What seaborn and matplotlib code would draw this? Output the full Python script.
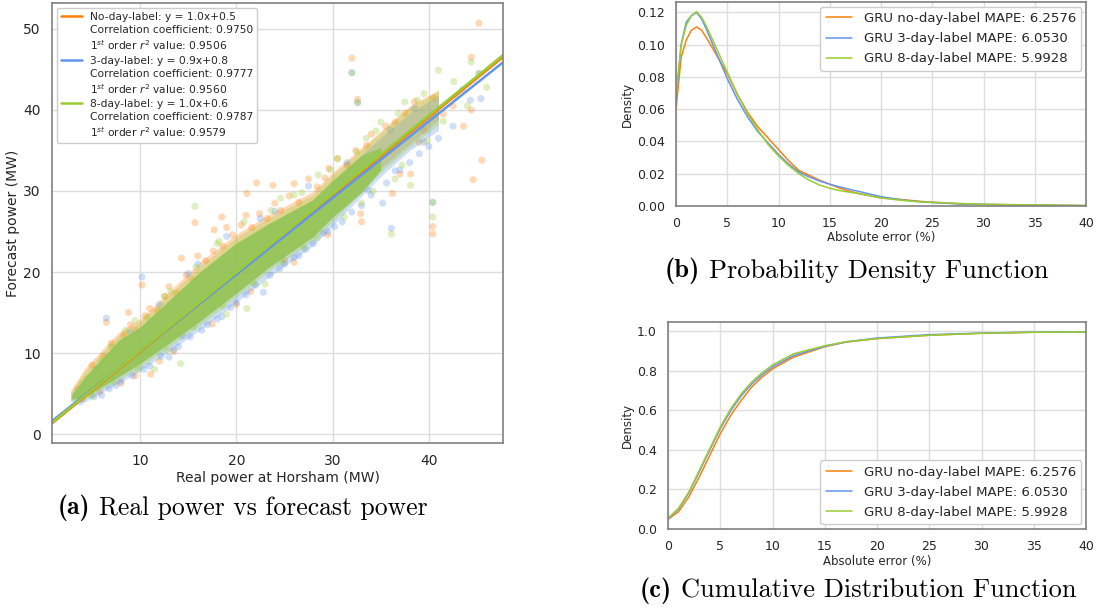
import matplotlib
matplotlib.use("Agg")
import matplotlib.pyplot as plt
from matplotlib.lines import Line2D
import numpy as np
import pandas as pd
import seaborn as sns

sns.set_theme(style="whitegrid")
plt.rcParams["axes.edgecolor"] = "0.5"
plt.rcParams["axes.linewidth"] = 1.2
plt.rcParams["grid.color"] = "0.87"
plt.rcParams["mathtext.fontset"] = "dejavusans"

names = ["No-day-label", "3-day-label", "8-day-label"]
gru_names = ["GRU no-day-label", "GRU 3-day-label", "GRU 8-day-label"]
colors = ["#ff7f0e", "#6495ed", "#9acd32"]
core_color = "#95c557"
eq_text = ["y = 1.0x+0.5", "y = 0.9x+0.8", "y = 1.0x+0.6"]
corr_text = ["0.9750", "0.9777", "0.9787"]
r2_text = ["0.9506", "0.9560", "0.9579"]
mape = ["6.2576", "6.0530", "5.9928"]

# fitted lines (slope, intercept)
slopes = [0.965, 0.945, 0.968]
intercepts = [0.5, 0.8, 0.6]

# envelopes of the dense part of each scatter cloud
fringe_x = [2.8, 4.3, 7.8, 10.0, 13.0, 16.4, 19.9, 23.4, 27.9, 30.0, 35.0, 38.0, 41.0]
orange_lo = [4.3, 4.7, 7.2, 8.8, 11.3, 14.2, 17.4, 20.7, 24.4, 26.8, 32.8, 35.8, 38.8]
orange_hi = [5.4, 8.2, 12.6, 14.2, 17.6, 21.4, 24.6, 27.1, 29.9, 32.3, 37.4, 40.5, 42.5]
blue_lo = [4.0, 4.0, 6.3, 7.8, 10.2, 13.0, 16.2, 19.4, 23.2, 25.7, 31.8, 35.0, 37.5]
blue_hi = [4.9, 7.0, 11.5, 13.1, 16.4, 20.1, 23.3, 25.9, 28.8, 31.2, 36.6, 39.6, 41.8]
green_lo = [4.1, 4.3, 6.7, 8.2, 10.7, 13.6, 16.8, 20.1, 23.8, 26.2, 32.3, 35.4, 38.2]
green_hi = [5.2, 7.8, 12.2, 13.9, 17.2, 20.9, 24.2, 26.7, 29.5, 32.0, 37.2, 40.3, 42.3]

# solid core where the clouds overlap most
core_x = [2.9, 4.3, 7.8, 10.0, 13.0, 16.4, 19.9, 23.4, 27.9, 30.0, 33.0, 35.0]
core_lo = [4.3, 4.6, 7.1, 8.7, 11.2, 14.1, 17.3, 20.6, 24.3, 26.8, 29.8, 32.6]
core_hi = [4.8, 7.1, 11.6, 13.2, 16.5, 20.2, 23.5, 26.0, 28.9, 31.3, 34.4, 35.4]

# individual points (real, forecast)
orange_pts = [(45.2, 50.7), (32.0, 46.4), (32.6, 41.3), (44.4, 46.5), (45.5, 33.8),
              (44.6, 31.4), (40.4, 25.6), (40.4, 24.7), (36.2, 29.7), (44.4, 40.0),
              (43.6, 38.0), (37.0, 32.1), (38.1, 32.1), (15.7, 26.1), (22.1, 31.0),
              (23.8, 30.7), (21.1, 29.7), (14.3, 21.7), (10.2, 18.4), (6.5, 13.8),
              (11.1, 7.4), (8.8, 15.0), (17.7, 25.2), (18.5, 26.8), (26.0, 30.9),
              (29.6, 32.8), (33.0, 26.2), (32.9, 27.2), (5.0, 8.5), (7.0, 11.2),
              (9.0, 13.5), (11.0, 15.5), (13.0, 18.2), (16.0, 22.0), (19.0, 25.5),
              (21.0, 27.0), (24.0, 28.5), (27.5, 31.5), (30.5, 34.0), (34.0, 37.0),
              (39.0, 36.0), (41.5, 39.5), (42.5, 40.5), (12.0, 9.0), (20.0, 16.0),
              (25.0, 21.5), (8.0, 6.3), (4.0, 4.3), (35.5, 38.0), (38.5, 41.0),
              (3.5, 5.6), (4.5, 6.8), (5.5, 8.0), (6.2, 9.6), (7.5, 10.5),
              (8.3, 12.2), (9.6, 12.8), (10.5, 14.6), (11.8, 15.2), (12.6, 17.0),
              (13.8, 17.4), (14.8, 19.6), (15.5, 19.0), (16.8, 21.4), (17.6, 22.6),
              (18.6, 23.2), (19.6, 24.6), (20.5, 25.8), (21.6, 25.5), (22.4, 27.2),
              (23.2, 26.6), (24.6, 27.6), (25.5, 29.4), (26.5, 28.6), (28.4, 30.5),
              (29.2, 31.6), (31.5, 33.2), (32.4, 35.0), (33.5, 35.6), (36.5, 38.5),
              (37.5, 39.6), (9.5, 7.2), (13.5, 10.2), (17.5, 13.6), (21.5, 17.6),
              (26.0, 21.2), (29.5, 24.6), (5.8, 5.2), (39.5, 37.5), (40.5, 41.5)]
blue_pts = [(35.2, 28.5), (36.1, 25.4), (40.4, 28.6), (45.4, 41.4), (44.3, 41.2),
            (45.2, 44.5), (32.0, 44.6), (32.6, 40.9), (33.7, 30.1), (10.2, 19.4),
            (6.5, 14.3), (22.8, 17.5), (14.4, 12.1), (6.0, 4.8), (8.0, 6.5),
            (11.0, 8.4), (14.0, 10.8), (17.0, 13.5), (20.0, 16.2), (22.0, 18.4),
            (25.0, 21.0), (28.0, 23.5), (31.0, 26.2), (34.0, 29.5), (38.0, 33.5),
            (41.0, 36.5), (42.5, 38.0), (43.5, 42.5), (13.0, 9.5), (18.5, 14.5),
            (26.5, 22.0), (29.5, 25.0), (36.5, 32.5), (39.5, 36.0), (16.0, 21.0),
            (24.0, 27.5), (3.8, 4.0), (5.2, 4.6), (6.8, 5.6), (7.5, 6.0),
            (9.2, 7.2), (10.4, 8.0), (12.2, 9.6), (13.5, 10.4), (15.2, 12.0),
            (16.4, 12.8), (18.0, 14.2), (19.4, 15.6), (21.0, 17.2), (23.5, 19.6),
            (24.5, 20.4), (26.0, 21.8), (27.2, 22.8), (29.0, 24.8), (30.2, 25.6),
            (32.0, 27.4), (33.0, 28.2), (35.6, 31.0), (37.0, 32.6), (39.0, 34.6),
            (40.0, 35.5), (5.5, 8.0), (9.0, 12.6), (12.0, 16.0), (15.0, 19.8),
            (19.0, 24.4), (22.5, 26.6), (27.5, 30.6), (31.5, 33.5), (36.0, 37.5),
            (38.5, 40.2)]
green_pts = [(15.7, 28.1), (21.1, 15.5), (14.2, 8.7), (32.0, 44.6), (32.6, 40.9),
             (44.4, 45.9), (41.0, 44.9), (42.6, 43.5), (45.2, 44.5), (38.1, 30.7),
             (40.4, 28.6), (36.1, 24.7), (24.6, 29.1), (40.4, 26.8), (37.5, 41.0),
             (39.5, 42.0), (35.0, 38.5), (33.5, 36.5), (30.5, 34.0), (28.5, 32.0),
             (26.0, 29.5), (9.5, 14.0), (12.5, 17.0), (7.0, 10.8), (18.0, 23.5),
             (44.0, 40.5), (46.0, 42.8), (27.0, 23.0), (23.0, 18.5), (19.0, 14.8),
             (11.5, 8.0), (36.5, 31.5), (33.0, 28.5), (4.0, 6.2), (6.0, 9.0),
             (8.5, 12.8), (10.8, 14.4), (13.2, 17.6), (15.8, 20.6), (18.2, 23.8),
             (20.8, 26.2), (23.6, 27.6), (26.8, 29.8), (29.8, 32.6), (32.5, 34.8),
             (34.5, 37.4), (36.8, 39.6), (38.8, 41.2), (5.0, 4.7), (7.2, 6.4),
             (9.8, 8.0), (12.8, 10.4), (15.6, 13.2), (18.6, 15.8), (21.8, 18.6),
             (24.8, 21.2), (28.4, 24.2), (31.2, 26.8), (34.2, 30.0), (37.2, 33.2),
             (39.8, 36.2), (41.5, 38.6), (43.0, 41.8)]

# PDF of absolute error (%)
pdf_x = [0, 0.5, 1, 1.5, 2, 2.5, 3, 4, 5, 6, 7, 8, 9, 10, 11, 12, 13, 14, 15,
         16, 17, 18, 20, 22, 24, 26, 28, 30, 35, 40]
pdf_orange = [0.060, 0.092, 0.103, 0.109, 0.111, 0.109, 0.104, 0.093, 0.082, 0.069,
              0.058, 0.049, 0.042, 0.035, 0.028, 0.022, 0.019, 0.016, 0.0135, 0.011,
              0.009, 0.0075, 0.005, 0.004, 0.0028, 0.002, 0.0012, 0.001, 0.0005, 0.0002]
pdf_blue = [0.065, 0.100, 0.114, 0.118, 0.120, 0.116, 0.109, 0.094, 0.079, 0.066,
            0.055, 0.046, 0.039, 0.032, 0.026, 0.021, 0.018, 0.0155, 0.0135, 0.0118,
            0.0102, 0.0088, 0.0058, 0.0038, 0.0025, 0.0018, 0.0012, 0.001, 0.0005, 0.0002]
pdf_green = [0.068, 0.100, 0.112, 0.118, 0.1205, 0.117, 0.111, 0.097, 0.083, 0.069,
             0.057, 0.047, 0.038, 0.031, 0.025, 0.020, 0.016, 0.013, 0.011, 0.0095,
             0.0085, 0.0075, 0.005, 0.0035, 0.0025, 0.002, 0.0015, 0.001, 0.0007, 0.0003]

# CDF of absolute error (%)
cdf_x = [0, 1, 2, 3, 4, 5, 6, 7, 8, 9, 10, 12, 15, 17, 20, 25, 30, 35, 40]
cdf_orange = [0.049, 0.087, 0.163, 0.264, 0.373, 0.482, 0.575, 0.650, 0.718, 0.768,
              0.810, 0.869, 0.922, 0.945, 0.963, 0.980, 0.990, 0.995, 0.997]
cdf_blue = [0.052, 0.100, 0.183, 0.290, 0.400, 0.508, 0.598, 0.673, 0.733, 0.780,
            0.820, 0.877, 0.924, 0.946, 0.966, 0.983, 0.991, 0.996, 0.997]
cdf_green = [0.055, 0.104, 0.188, 0.297, 0.407, 0.516, 0.608, 0.684, 0.743, 0.790,
             0.830, 0.886, 0.927, 0.947, 0.963, 0.980, 0.990, 0.995, 0.997]

captions = [("(a)", "Real power vs forecast power"),
            ("(b)", "Probability Density Function"),
            ("(c)", "Cumulative Distribution Function")]

W, H = 1099, 613
fig = plt.figure(figsize=(W / 100, H / 100), dpi=100)


def px_axes(left, top, right, bottom):
    return fig.add_axes([left / W, 1 - bottom / H, (right - left) / W, (bottom - top) / H])


# ---- (a) scatter
ax = px_axes(52, 3, 503, 443)
fringes = [(orange_lo, orange_hi), (blue_lo, blue_hi), (green_lo, green_hi)]
pts = [orange_pts, blue_pts, green_pts]
for i in range(3):
    lo, hi = fringes[i]
    ax.fill_between(fringe_x, lo, hi, color=colors[i], alpha=0.3, lw=0)
    df = pd.DataFrame(pts[i], columns=["real", "forecast"])
    sns.scatterplot(data=df, x="real", y="forecast", ax=ax, color=colors[i],
                    alpha=0.3, s=26, edgecolor="none")
ax.fill_between(core_x, core_lo, core_hi, color=core_color, alpha=0.9, lw=0)

xlim = (0.85, 47.7)
handles, labels = [], []
for i in range(3):
    line_x = np.array(xlim)
    sns.lineplot(x=line_x, y=slopes[i] * line_x + intercepts[i], ax=ax,
                 color=colors[i], lw=1.8)
    handles += [Line2D([], [], color=colors[i], lw=1.8),
                Line2D([], [], color="none"), Line2D([], [], color="none")]
    labels += [f"{names[i]}: {eq_text[i]}",
               f"Correlation coefficient: {corr_text[i]}",
               f"1$^{{st}}$ order $r^2$ value: {r2_text[i]}"]
ax.set_xlim(*xlim)
ax.set_ylim(-1.1, 53.2)
ax.set_xticks([10, 20, 30, 40])
ax.set_yticks([0, 10, 20, 30, 40, 50])
ax.tick_params(labelsize=10, pad=2)
ax.set_xlabel("Real power at Horsham (MW)", fontsize=10, labelpad=2)
ax.set_ylabel("Forecast power (MW)", fontsize=10, labelpad=2)
ax.legend(handles, labels, loc="upper left", fontsize=7.7, framealpha=1,
          handlelength=2.0, handletextpad=0.7, borderaxespad=0.45,
          labelspacing=0.3, borderpad=0.4)

# ---- (b) PDF
ax_b = px_axes(676, 2, 1086, 206)
for i, ys in enumerate([pdf_orange, pdf_blue, pdf_green]):
    sns.lineplot(x=pdf_x, y=ys, ax=ax_b, color=colors[i], lw=1.1,
                 label=f"{gru_names[i]} MAPE: {mape[i]}")
ax_b.set_xlim(0, 40)
ax_b.set_ylim(0, 0.1265)
ax_b.set_yticks([0, 0.02, 0.04, 0.06, 0.08, 0.10, 0.12])
ax_b.tick_params(labelsize=9, pad=2)
ax_b.set_xlabel("Absolute error (%)", fontsize=8.5, labelpad=1)
ax_b.set_ylabel("Density", fontsize=8.5, labelpad=2)
ax_b.legend(loc="upper right", fontsize=9.5, framealpha=1, handlelength=2.0,
            handletextpad=0.9, borderaxespad=0.35, labelspacing=0.55)

# ---- (c) CDF
ax_c = px_axes(668, 322, 1086, 529)
for i, ys in enumerate([cdf_orange, cdf_blue, cdf_green]):
    sns.lineplot(x=cdf_x, y=ys, ax=ax_c, color=colors[i], lw=1.1,
                 label=f"{gru_names[i]} MAPE: {mape[i]}")
ax_c.set_xlim(0, 40)
ax_c.set_ylim(0, 1.047)
ax_c.set_yticks([0, 0.2, 0.4, 0.6, 0.8, 1.0])
ax_c.tick_params(labelsize=9, pad=2)
ax_c.set_xlabel("Absolute error (%)", fontsize=8.5, labelpad=1)
ax_c.set_ylabel("Density", fontsize=8.5, labelpad=2)
ax_c.legend(loc="lower right", fontsize=9.5, framealpha=1, handlelength=2.0,
            handletextpad=0.9, borderaxespad=0.35, labelspacing=0.55)

# ---- captions: bold tag + roman text, placed side by side
renderer = fig.canvas.get_renderer()
cap_pos = [(58, 508, 18.5), (665, 271, 19), (640, 591, 19)]
for (tag, txt), (x0, yc, fs) in zip(captions, cap_pos):
    t = fig.text(x0 / W, 1 - yc / H, tag, family="cmb10", fontsize=fs,
                 ha="left", va="center", color="black")
    bb = t.get_window_extent(renderer)
    gap = 0.33 * fs * 100 / 72
    fig.text((bb.x1 + gap) / W, 1 - yc / H, txt, family="cmr10", fontsize=fs,
             ha="left", va="center", color="black")

fig.savefig("out.png", dpi=100)
